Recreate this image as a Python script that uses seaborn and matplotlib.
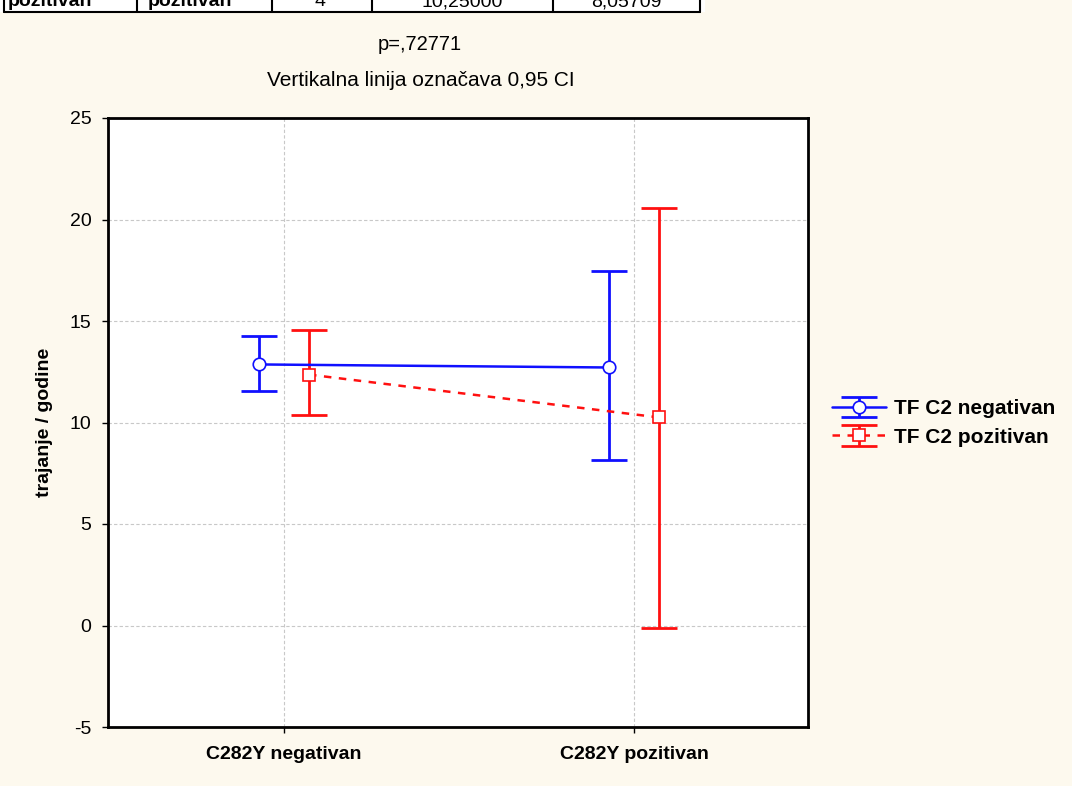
import numpy as np
import pandas as pd
import matplotlib
matplotlib.use("Agg")
import matplotlib.pyplot as plt
import seaborn as sns
from matplotlib.legend_handler import HandlerTuple

# ---- data ----
categories = ["C282Y negativan", "C282Y pozitivan"]
series = ["TF C2 negativan", "TF C2 pozitivan"]
means_neg = [12.86, 12.71]
lo_neg = [11.53, 8.13]
hi_neg = [14.24, 17.44]
means_poz = [12.36, 10.25]
lo_poz = [10.39, -0.10]
hi_poz = [14.58, 20.59]
y_ticks = [-5, 0, 5, 10, 15, 20, 25]
table_cells = ["pozitivan", "pozitivan", "4", "10,25000", "8,05709"]

BG = "#fdf9ee"
BLUE = "#1010ff"
RED = "#ff1010"

sns.set_theme(style="white")
plt.rcParams["font.family"] = ["Liberation Sans", "DejaVu Sans"]
plt.rcParams["axes.unicode_minus"] = False
for k in ["text.color", "axes.labelcolor", "xtick.color", "ytick.color"]:
    plt.rcParams[k] = "black"

fig = plt.figure(figsize=(10.72, 7.86), dpi=100, facecolor=BG)
ax = fig.add_axes([108 / 1072, 1 - 727 / 786, 700 / 1072, 609 / 786])
ax.set_facecolor("white")

offset = 0.0714
rows = []
for i, c in enumerate(categories):
    rows.append({"x": i - offset, "mean": means_neg[i], "lo": lo_neg[i], "hi": hi_neg[i], "grp": series[0]})
    rows.append({"x": i + offset, "mean": means_poz[i], "lo": lo_poz[i], "hi": hi_poz[i], "grp": series[1]})
df = pd.DataFrame(rows)

ax.set_xlim(-0.503, 1.497)
ax.set_ylim(-5, 25)
ax.set_yticks(y_ticks)
ax.set_xticks(range(len(categories)))
ax.set_xticklabels(categories, fontweight="bold", fontsize=14.5)
ax.grid(True, color="#c8c8c8", linestyle=(0, (3, 2)), linewidth=0.8)
ax.set_axisbelow(True)

colors = {series[0]: BLUE, series[1]: RED}
handles = []
for grp, marker, ls in [(series[0], "o", "-"), (series[1], "s", (0, (3, 3)))]:
    sub = df[df.grp == grp]
    eb = ax.errorbar(sub["x"], sub["mean"],
                     yerr=[sub["mean"] - sub["lo"], sub["hi"] - sub["mean"]],
                     fmt="none", ecolor=colors[grp], elinewidth=2.0,
                     capsize=13, capthick=2.0, zorder=3)
    sns.lineplot(data=sub, x="x", y="mean", ax=ax, color=colors[grp],
                 linewidth=1.8, marker=marker, markersize=9 if marker == "o" else 8.5,
                 markerfacecolor="white", markeredgecolor=colors[grp],
                 markeredgewidth=1.2, legend=False, sort=False, zorder=4)
    ln = ax.lines[-1]
    ln.set_linestyle(ls)
    handles.append((eb, ln))

ax.set_xlabel("")
ax.set_ylabel("trajanje / godine", fontweight="bold", fontsize=14, labelpad=12)
ax.tick_params(axis="both", direction="out", length=4, width=1, colors="black",
               labelsize=14, left=True, bottom=True)
ax.tick_params(axis="y", pad=8)
ax.tick_params(axis="x", pad=10)
for s in ax.spines.values():
    s.set_color("black")
    s.set_linewidth(2)

fig.legend(handles, series, loc="center left", bbox_to_anchor=(813 / 1072, 1 - 423 / 786),
           frameon=False, prop={"weight": "bold", "size": 15},
           handlelength=2.6, handletextpad=0.4, labelspacing=0.45,
           handler_map={tuple: HandlerTuple(ndivide=1)})

# titles
fig.text(420 / 1072, 1 - 45 / 786, "p=,72771", ha="center", va="center", fontsize=14.5)
fig.text(421 / 1072, 1 - 80 / 786, "Vertikalna linija označava 0,95 CI", ha="center",
         va="center", fontsize=15)

# top table fragment (cut-off)
fig.patches.append(plt.Rectangle((0, 1 - 12 / 786), 705 / 1072, 12 / 786, transform=fig.transFigure,
                                 facecolor="white", edgecolor="none", zorder=0))
for xv in [4, 137, 272, 372, 553, 700]:
    fig.add_artist(plt.Line2D([xv / 1072, xv / 1072], [1 - 12 / 786, 1], transform=fig.transFigure,
                              color="black", linewidth=1.5))
fig.add_artist(plt.Line2D([4 / 1072, 700 / 1072], [1 - 12 / 786, 1 - 12 / 786],
                          transform=fig.transFigure, color="black", linewidth=1.5))
tx = [(8, "left", True), (148, "left", True), (320, "center", False),
      (462, "center", False), (626, "center", False)]
for (xp, ha, bold), t in zip(tx, table_cells):
    fig.text(xp / 1072, 1 - 2 / 786, t, ha=ha, va="center", fontsize=14,
             fontweight="bold" if bold else "normal")

fig.savefig("out.png", dpi=100, facecolor=BG)
